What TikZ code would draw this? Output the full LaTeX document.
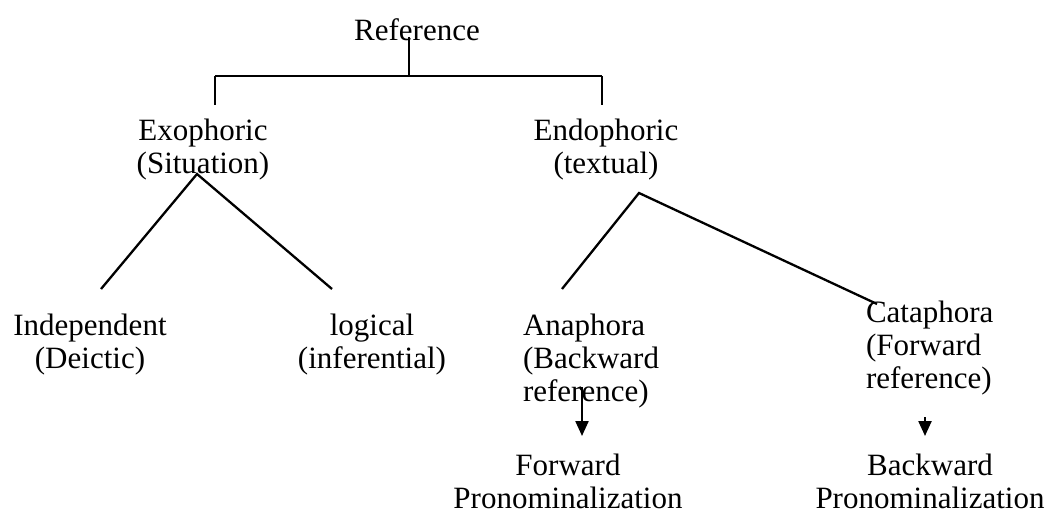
\documentclass[tikz,border=0pt]{standalone}
\usepackage{fontspec}
\setmainfont{Liberation Serif}
\usetikzlibrary{arrows.meta}
\begin{document}
\begin{tikzpicture}[x=1pt,y=-1pt,
  lbl/.style={inner sep=0pt,outer sep=0pt,align=center,anchor=north,
    font=\fontsize{31}{33}\selectfont},
  lbll/.style={lbl,align=left,anchor=north west},
  conn/.style={line width=2.3pt,line cap=butt},
  arr/.style={conn,-{Triangle[width=13pt,length=15pt]}}]
\useasboundingbox (0,0) rectangle (1057,519);

% labels (top edge sits about 21pt above the first baseline)
\node[lbl]  (ref)   at (417,19)  {Reference};
\node[lbl]  (exo)   at (203,119) {Exophoric\\(Situation)};
\node[lbl]  (endo)  at (606,119) {Endophoric\\(textual)};
\node[lbl]  (ind)   at (90,314)  {Independent\\(Deictic)};
\node[lbl]  (log)   at (372,314) {logical\\(inferential)};
\node[lbll] (ana)   at (523,314) {Anaphora\\(Backward\\reference)};
\node[lbll] (cata)  at (866,301) {Cataphora\\(Forward\\reference)};
\node[lbl]  (fwd)   at (568,454) {Forward\\Pronominalization};
\node[lbl]  (bwd)   at (930,454) {Backward\\Pronominalization};

% junction points of the top bracket
\coordinate (stem) at (409,37);
\coordinate (mid)  at (409,76);
\coordinate (bl)   at (215,76);
\coordinate (br)   at (602,76);
\coordinate (tl)   at (215,105);
\coordinate (tr)   at (602,105);

% branch points under the two categories
\coordinate (exoap)  at (197,174);
\coordinate (endoap) at (639,193);
\coordinate (indend) at (101,289);
\coordinate (logend) at (332,289);
\coordinate (anaend) at (562,289);
\coordinate (catend) at (877,304);

% arrow ends
\coordinate (a1s) at (582,387);
\coordinate (a1e) at (582,436);
\coordinate (a2s) at (925,417);
\coordinate (a2e) at (925,436);

\draw[conn] (stem) -- (mid);
\draw[conn] (bl) -- (br);
\draw[conn] (bl) -- (tl);
\draw[conn] (br) -- (tr);

\draw[conn] (indend) -- (exoap) -- (logend);
\draw[conn] (anaend) -- (endoap) -- (catend);

\draw[arr] (a1s) -- (a1e);
\draw[arr] (a2s) -- (a2e);
\end{tikzpicture}
\end{document}
